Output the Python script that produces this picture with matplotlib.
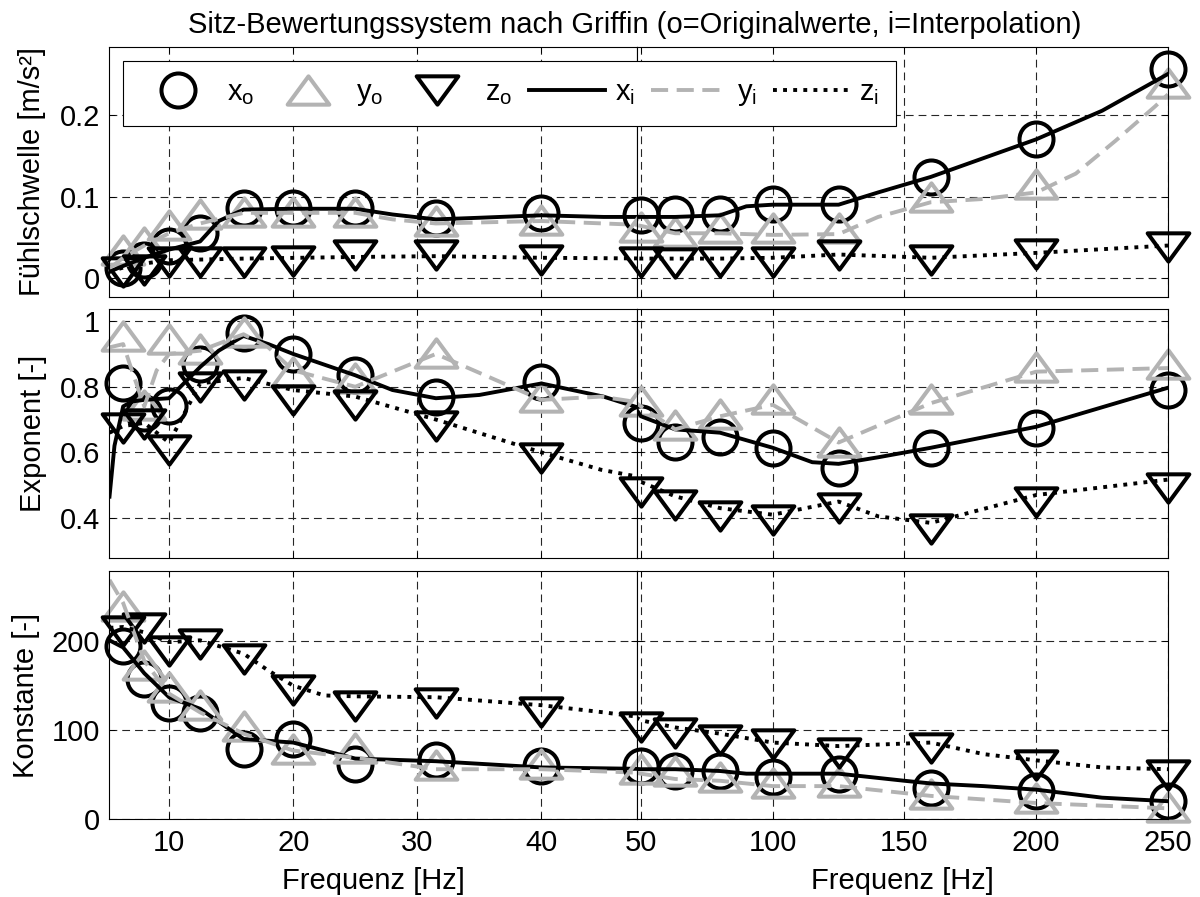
import numpy as np
import matplotlib
matplotlib.use("Agg")
import matplotlib.pyplot as plt
from matplotlib.path import Path
from matplotlib.markers import MarkerStyle

plt.rcParams['font.family'] = ['Liberation Sans', 'DejaVu Sans']
plt.rcParams['font.size'] = 21
plt.rcParams['mathtext.fontset'] = 'custom'
plt.rcParams['mathtext.rm'] = 'Liberation Sans'

# third-octave centre frequencies of the original values
freq_o = [6.3, 8, 10, 12.5, 16, 20, 25, 31.5, 40, 50, 63, 80, 100, 125, 160, 200, 250]

# Fühlschwelle [m/s²]
thr_x_o = [0.012, 0.022, 0.040, 0.055, 0.086, 0.086, 0.086, 0.074, 0.080, 0.077, 0.078, 0.078, 0.091, 0.091, 0.124, 0.170, 0.256]
thr_y_o = [0.035, 0.044, 0.065, 0.078, 0.081, 0.081, 0.081, 0.070, 0.071, 0.063, 0.057, 0.062, 0.061, 0.062, 0.100, 0.115, 0.239]
thr_z_o = [0.007, 0.010, 0.020, 0.020, 0.020, 0.021, 0.028, 0.028, 0.022, 0.020, 0.019, 0.020, 0.020, 0.028, 0.022, 0.030, 0.038]
thr_x_f = [5.2, 6.3, 8, 10, 12.5, 14, 16, 20, 25, 28, 31.5, 35, 40, 45, 50, 63, 80, 90, 100, 125, 140, 160, 180, 200, 225, 250]
thr_x_i = [0.008, 0.015, 0.025, 0.035, 0.045, 0.070, 0.084, 0.085, 0.085, 0.078, 0.072, 0.074, 0.077, 0.075, 0.075, 0.075, 0.077, 0.088, 0.090, 0.090, 0.105, 0.124, 0.147, 0.170, 0.205, 0.250]
thr_y_f = [5.2, 6.3, 8, 10, 12.5, 16, 20, 25, 28, 31.5, 40, 50, 63, 80, 100, 125, 140, 160, 180, 200, 215, 230, 245, 250]
thr_y_i = [0.012, 0.025, 0.040, 0.055, 0.067, 0.080, 0.080, 0.080, 0.072, 0.067, 0.070, 0.064, 0.055, 0.055, 0.053, 0.054, 0.075, 0.093, 0.097, 0.105, 0.128, 0.168, 0.210, 0.225]
thr_z_f = [5.2, 6.3, 8, 10, 16, 25, 31.5, 40, 50, 80, 100, 125, 160, 200, 250]
thr_z_i = [0.008, 0.013, 0.018, 0.022, 0.024, 0.026, 0.027, 0.025, 0.024, 0.024, 0.025, 0.029, 0.025, 0.031, 0.040]

# Exponent [-]
exp_x_o = [0.81, 0.72, 0.74, 0.87, 0.964, 0.90, 0.837, 0.77, 0.815, 0.69, 0.633, 0.648, 0.614, 0.553, 0.614, 0.675, 0.79]
exp_y_o = [0.955, 0.745, 0.945, 0.915, 0.967, 0.846, 0.827, 0.903, 0.77, 0.757, 0.684, 0.718, 0.763, 0.633, 0.763, 0.86, 0.87]
exp_z_o = [0.675, 0.685, 0.608, 0.80, 0.806, 0.76, 0.745, 0.68, 0.584, 0.48, 0.44, 0.405, 0.395, 0.43, 0.365, 0.45, 0.49]
exp_x_f = [5.2, 5.6, 6.3, 7, 8, 10, 12.5, 14, 16, 18, 20, 25, 28, 31.5, 35, 40, 45, 50, 63, 80, 100, 115, 125, 140, 160, 200, 250]
exp_x_i = [0.465, 0.62, 0.74, 0.755, 0.76, 0.765, 0.86, 0.91, 0.955, 0.93, 0.90, 0.835, 0.79, 0.765, 0.775, 0.81, 0.77, 0.71, 0.67, 0.66, 0.614, 0.57, 0.565, 0.585, 0.614, 0.678, 0.797]
exp_y_f = [5.2, 6.3, 7, 8, 9, 10, 12.5, 16, 18, 20, 25, 31.5, 40, 44.8, 50, 63, 80, 100, 125, 160, 200, 250]
exp_y_i = [0.92, 0.93, 0.85, 0.74, 0.85, 0.90, 0.91, 0.96, 0.92, 0.85, 0.80, 0.90, 0.76, 0.77, 0.74, 0.67, 0.71, 0.745, 0.63, 0.75, 0.846, 0.857]
exp_z_f = [5.2, 6.3, 8, 10, 12.5, 16, 20, 25, 31.5, 40, 44.8, 50, 63, 80, 100, 125, 140, 160, 200, 250]
exp_z_i = [0.66, 0.68, 0.69, 0.63, 0.81, 0.827, 0.79, 0.77, 0.70, 0.60, 0.547, 0.51, 0.466, 0.43, 0.41, 0.45, 0.405, 0.385, 0.47, 0.517]

# Konstante [-]
con_x_o = [195, 158, 130, 119, 79, 90, 62, 66, 60, 60, 54, 54, 47, 51, 35, 32, 20]
con_y_o = [240, 173, 148, 128, 105, 79, 80, 61, 62, 56, 54, 47, 40, 42, 28, 24, 13]
con_z_o = [211, 215, 189, 197, 180, 145, 127, 130, 120, 103, 97, 89, 84, 74, 80, 61, 49]
con_x_f = [5.2, 6.3, 8, 10, 12.5, 16, 20, 25, 31.5, 40, 50, 63, 80, 90, 125, 150, 160, 180, 200, 225, 250]
con_x_i = [201, 193, 164, 137, 124, 90, 86, 68, 65, 58, 56, 56, 54, 51, 51, 43, 40, 37, 33, 24, 20]
con_y_f = [5.2, 6.3, 8, 10, 12.5, 16, 20, 25, 31.5, 40, 50, 63, 80, 100, 125, 160, 200, 225, 250]
con_y_i = [269, 243, 178, 141, 120, 96, 77, 69, 56, 56, 51, 45, 43, 37, 37, 26, 18, 15, 12]
con_z_f = [5.2, 6.3, 8, 10, 12.5, 16, 18, 20, 22.5, 25, 31.5, 40, 45, 50, 63, 80, 100, 125, 160, 180, 200, 225, 250]
con_z_i = [215, 216, 210, 199, 201, 186, 167, 150, 139, 138, 137, 128, 120, 111, 103, 96, 86, 82, 86, 73, 66, 58, 56]

panels = [
    dict(label='Fühlschwelle [m/s²]', o=(thr_x_o, thr_y_o, thr_z_o),
         i=((thr_x_f, thr_x_i), (thr_y_f, thr_y_i), (thr_z_f, thr_z_i)),
         ylim=(-0.023, 0.283), yticks=[0, 0.1, 0.2], yticklabels=['0', '0.1', '0.2'], lx=32),
    dict(label='Exponent [-]', o=(exp_x_o, exp_y_o, exp_z_o),
         i=((exp_x_f, exp_x_i), (exp_y_f, exp_y_i), (exp_z_f, exp_z_i)),
         ylim=(0.278, 1.037), yticks=[0.4, 0.6, 0.8, 1.0], yticklabels=['0.4', '0.6', '0.8', '1'], lx=33),
    dict(label='Konstante [-]', o=(con_x_o, con_y_o, con_z_o),
         i=((con_x_f, con_x_i), (con_y_f, con_y_i), (con_z_f, con_z_i)),
         ylim=(0, 279), yticks=[0, 100, 200], yticklabels=['0', '100', '200'], lx=26),
]

GRAY = '0.7'
W, H = 1200, 897
rows = [(47, 297), (309, 558), (571, 819)]
x_left, x_split, x_right = 109, 637, 1168
lim_left = (5.16, 47.7)
lim_right = (48.5, 250)

tri_up = MarkerStyle(Path([(0, 0.68), (-1, -0.68), (1, -0.68), (0, 0.68)],
                          [Path.MOVETO, Path.LINETO, Path.LINETO, Path.CLOSEPOLY]), joinstyle='miter')
tri_dn = MarkerStyle(Path([(0, -0.68), (-1, 0.68), (1, 0.68), (0, -0.68)],
                          [Path.MOVETO, Path.LINETO, Path.LINETO, Path.CLOSEPOLY]), joinstyle='miter')
marker_styles = [('o', 'k', 24.5), (tri_up, GRAY, 30), (tri_dn, 'k', 30)]
line_styles = [dict(color='k', ls='-'),
               dict(color=GRAY, ls=(0, (4.4, 2.2))),
               dict(color='k', ls=(0, (1, 1.6)), dash_capstyle='butt')]


def box(x0, x1, y0, y1):
    return [x0 / W, 1 - y1 / H, (x1 - x0) / W, (y1 - y0) / H]


fig = plt.figure(figsize=(12, 8.97), dpi=100)
legend_handles = []

for r, (p, (y0, y1)) in enumerate(zip(panels, rows)):
    for side, (xa, xb, lim, ticks) in enumerate([(x_left, x_split, lim_left, [10, 20, 30, 40]),
                                                 (x_split, x_right, lim_right, [50, 100, 150, 200, 250])]):
        ax = fig.add_axes(box(xa, xb, y0, y1))
        handles = []
        for vals, (mk, col, ms) in zip(p['o'], marker_styles):
            sel = [(f, v) for f, v in zip(freq_o, vals) if lim[0] <= f <= lim[1]]
            fs, vs = zip(*sel)
            h, = ax.plot(fs, vs, ls='none', marker=mk, ms=ms, mfc='none', mec=col, mew=2.9, clip_on=False)
            handles.append(h)
        for (fi, vi), st in zip(p['i'], line_styles):
            h, = ax.plot(fi, vi, lw=2.8, **st)
            handles.append(h)
        if r == 0 and side == 0:
            legend_handles = handles
        ax.set_xlim(lim)
        ax.set_ylim(p['ylim'])
        ax.set_xticks(ticks)
        ax.set_yticks(p['yticks'])
        ax.set_yticklabels(p['yticklabels'])
        ax.set_axisbelow(True)
        ax.grid(True, color='0.15', lw=0.8, ls=(0, (7, 4.5)))
        ax.tick_params(direction='in', length=4.5, width=0.7, top=True, right=True,
                       labelbottom=(r == 2), labelleft=(side == 0))
        ax.tick_params(axis='x', pad=7)
        ax.tick_params(axis='y', pad=6.5)
        for s in ax.spines.values():
            s.set_linewidth(0.8)
    fig.text(p['lx'] / W, 1 - (y0 + y1) / 2 / H, p['label'], rotation=90, ha='center', va='center')

fig.text(373 / W, 1 - 889 / H, 'Frequenz [Hz]', ha='center', va='baseline')
fig.text(902 / W, 1 - 889 / H, 'Frequenz [Hz]', ha='center', va='baseline')
fig.text(635 / W, 1 - 33 / H, 'Sitz-Bewertungssystem nach Griffin (o=Originalwerte, i=Interpolation)',
         ha='center', va='baseline')

leg = fig.legend(legend_handles,
                 [r'$\mathrm{x_o}$', r'$\mathrm{y_o}$', r'$\mathrm{z_o}$',
                  r'$\mathrm{x_i}$', r'$\mathrm{y_i}$', r'$\mathrm{z_i}$'],
                 ncol=6, loc='upper left', bbox_to_anchor=(123 / W, 1 - 61 / H),
                 borderaxespad=0, fancybox=False, edgecolor='k', framealpha=1,
                 handlelength=2.6, handletextpad=0.35, columnspacing=0.55, borderpad=0.6)
leg.get_frame().set_linewidth(0.8)

fig.savefig('out.png', dpi=100)
